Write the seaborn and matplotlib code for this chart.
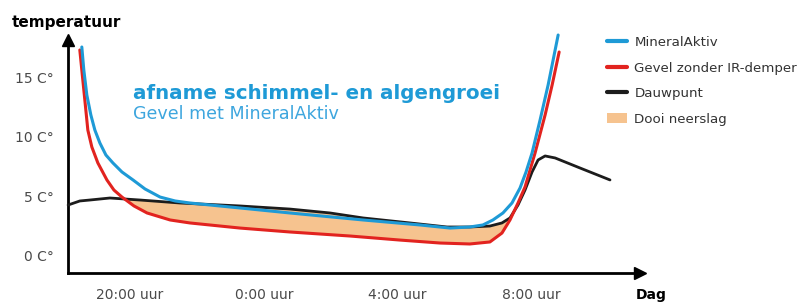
import numpy as np
import pandas as pd
import matplotlib
matplotlib.use("Agg")
import matplotlib.pyplot as plt
import seaborn as sns
from matplotlib.lines import Line2D
from matplotlib.patches import Patch

sns.set_style("white")
plt.rcParams["font.family"] = ["DejaVu Sans"]

# ---- data (hours after 20:00, temperature in °C) ----
blue_h = [-1.44, -1.38, -1.29, -1.17, -1.05, -0.90, -0.72, -0.51, -0.24, 0.09, 0.45, 0.90, 1.35, 1.79,
          3.29, 4.78, 6.97, 8.67, 9.57, 10.16, 10.55, 10.85, 11.15, 11.42, 11.66, 11.84, 12.02, 12.26, 12.50, 12.80]
blue_t = [17.55, 15.61, 13.51, 11.83, 10.56, 9.47, 8.46, 7.79, 7.03, 6.36, 5.60, 4.92, 4.59, 4.42,
          4.00, 3.58, 2.99, 2.57, 2.31, 2.40, 2.57, 2.99, 3.58, 4.42, 5.68, 7.03, 8.63, 11.41, 14.35, 18.56]

red_h = [-1.50, -1.44, -1.38, -1.32, -1.26, -1.14, -0.96, -0.69, -0.48, -0.24, 0.12, 0.51, 1.20, 1.79,
         3.29, 4.78, 6.58, 8.07, 9.27, 10.16, 10.76, 11.12, 11.36, 11.60, 11.81, 12.11, 12.41, 12.62, 12.83]
red_t = [17.30, 15.61, 13.93, 12.25, 10.56, 9.13, 7.79, 6.36, 5.51, 4.92, 4.17, 3.58, 2.99, 2.74,
         2.31, 1.98, 1.64, 1.30, 1.05, 0.97, 1.14, 1.89, 2.99, 4.42, 5.77, 8.63, 11.83, 14.35, 17.13]

dew_h = [-1.85, -1.50, -1.20, -0.60, 0.30, 1.49, 3.29, 4.78, 5.98, 6.97, 8.37, 9.48, 10.16, 10.76,
         11.12, 11.36, 11.60, 11.81, 12.02, 12.20, 12.41, 12.71, 13.45, 14.35]
dew_t = [4.25, 4.59, 4.67, 4.84, 4.67, 4.42, 4.17, 3.91, 3.58, 3.16, 2.74, 2.40, 2.40, 2.48,
         2.74, 3.16, 4.25, 5.51, 7.03, 8.04, 8.38, 8.21, 7.37, 6.36]

y_ticks = [0, 5, 10, 15]
y_labels = ["0 C°", "5 C°", "10 C°", "15 C°"]
x_ticks = [0, 4, 8, 12]
x_labels = ["20:00 uur", "0:00 uur", "4:00 uur", "8:00 uur"]

series_names = ["MineralAktiv", "Gevel zonder IR-demper", "Dauwpunt"]
fill_name = "Dooi neerslag"

BLUE = "#1e9ad6"
RED = "#e2231f"
BLACK = "#1c1c1c"
PEACH = "#f6c38f"

fig = plt.figure(figsize=(8, 3.03), dpi=100)
W, H = 800, 303
ax = fig.add_axes([68 / W, (H - 273) / H, (640 - 68) / W, (273 - 40) / H])
ax.set_xlim(-1.853, 15.247)
ax.set_ylim(-1.473, 18.14)

# fill between red and dewpoint where dewpoint above red
rh = np.array(red_h)
rt = np.array(red_t)
dt_on_r = np.interp(rh, dew_h, dew_t)
mask = (dt_on_r > rt)
ax.fill_between(rh, rt, dt_on_r, where=mask, interpolate=True, color=PEACH, lw=0, zorder=1)

sns.lineplot(x=dew_h, y=dew_t, ax=ax, color=BLACK, lw=2.0, sort=False, estimator=None, zorder=3)
sns.lineplot(x=red_h, y=red_t, ax=ax, color=RED, lw=2.2, sort=False, estimator=None, zorder=4)
sns.lineplot(x=blue_h, y=blue_t, ax=ax, color=BLUE, lw=2.2, sort=False, estimator=None, zorder=5)
for ln in ax.get_lines():
    ln.set_clip_on(False)
    ln.set_solid_capstyle("round")
    ln.set_solid_joinstyle("round")

# axes styling
for s in ["top", "right"]:
    ax.spines[s].set_visible(False)
for s in ["left", "bottom"]:
    ax.spines[s].set_linewidth(2.0)
    ax.spines[s].set_color("black")
ax.plot(1, 0, ">", color="black", markersize=9, transform=ax.transAxes, clip_on=False)
ax.plot(0, 1, "^", color="black", markersize=9, transform=ax.transAxes, clip_on=False)

ax.set_yticks(y_ticks)
ax.set_yticklabels(y_labels)
ax.set_xticks(x_ticks)
ax.set_xticklabels(x_labels)
ax.tick_params(axis="y", length=0, pad=10, labelsize=10, labelcolor="#4a4a4a")
ax.tick_params(axis="x", length=0, pad=11, labelsize=10, labelcolor="#4a4a4a")
ax.set_xlabel("")
ax.set_ylabel("")

fig.text(12 / W, 1 - 22 / H, "temperatuur", fontsize=11, fontweight="bold", color="black",
         ha="left", va="center")
fig.text(651 / W, 1 - 295 / H, "Dag", fontsize=10, fontweight="bold", color="black",
         ha="center", va="center")
fig.text(133 / W, 1 - 93 / H, "afname schimmel- en algengroei", fontsize=14.3, fontweight="bold",
         color=BLUE, ha="left", va="center")
fig.text(133 / W, 1 - 114 / H, "Gevel met MineralAktiv", fontsize=12.6, color="#3ea6de",
         ha="left", va="center")

handles = [Line2D([], [], color=BLUE, lw=3),
           Line2D([], [], color=RED, lw=3),
           Line2D([], [], color=BLACK, lw=3),
           Patch(facecolor=PEACH, edgecolor="none")]
leg = fig.legend(handles, series_names + [fill_name], loc="upper left",
                 bbox_to_anchor=(607 / W, 1 - 36 / H), frameon=False, fontsize=9.6,
                 handlelength=1.5, handleheight=0.8, handletextpad=0.55, labelspacing=0.95,
                 borderaxespad=0, borderpad=0)
for t in leg.get_texts():
    t.set_color("#333333")

fig.savefig("out.png", dpi=100)
